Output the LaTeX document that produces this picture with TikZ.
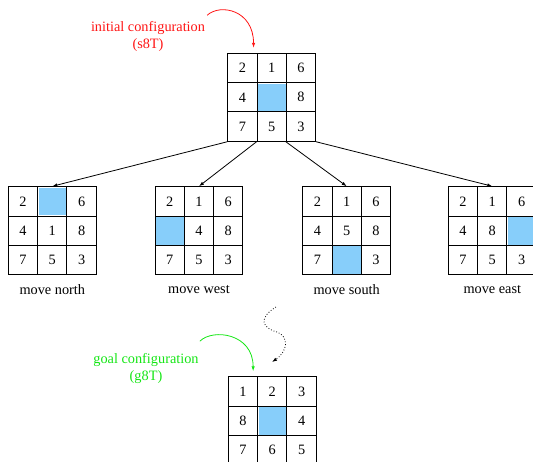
\documentclass[tikz,border=0pt]{standalone}
\usepackage{fontspec}
\setmainfont{Liberation Serif}
\usetikzlibrary{calc,arrows.meta}
\definecolor{tileblue}{RGB}{135,206,250}
\definecolor{cfgred}{RGB}{255,20,20}
\definecolor{cfggreen}{RGB}{20,230,20}
% one 3x3 board: name, top left cell centre, blank cell, tiles row by row
\def\board(#1)(#2,#3)[#4]#5{%
	\foreach \v [count=\k from 0] in {#5} {
		\pgfmathtruncatemacro\r{div(\k,3)}
		\pgfmathtruncatemacro\c{mod(\k,3)}
		\node[cell] (#1-\k) at ({#2+\c*29.3},{#3+\r*29.3}) {\v};
	}
	\node[blank] at (#1-#4) {};
}

\begin{document}
\begin{tikzpicture}[x=1pt,y=-1pt,
	every node/.style={font=\fontsize{14.3}{17}\selectfont},
	cell/.style={draw, line width=1pt, minimum size=29.3pt, inner sep=0pt},
	blank/.style={fill=tileblue, minimum size=27.6pt, inner sep=0pt},
	move/.style={line width=0.8pt, -{Latex[length=5pt,width=3.5pt]}}]
	%%%%% START %%%%%
	\useasboundingbox (0,0) rectangle (533,461);
	
	\board(top)(242.4,68)[4]{2,1,6,4,,8,7,5,3}
	
	\board(n)(23,201.4)[1]{2,,6,4,1,8,7,5,3}
	\board(w)(169.7,201.4)[3]{2,1,6,,4,8,7,5,3}
	\board(s)(317.4,201.4)[7]{2,1,6,4,5,8,7,,3}
	\board(e)(463,201.4)[5]{2,1,6,4,8,,7,5,3}
	
	\board(goal)(243,391.4)[4]{1,2,3,8,,4,7,6,5}
	
	\draw[move] (top-6.south west) -- (n-1.north);
	\draw[move] (top-7.south west) -- (w-1.north);
	\draw[move] (top-8.south west) -- (s-1.north);
	\draw[move] (top-8.south east) -- (e-1.north);
	
	\node (nlbl) at ([yshift=-14.5]n-7.south) {move north};
	\node (wlbl) at ([yshift=-14.5]w-7.south) {move west};
	\node (slbl) at ([yshift=-14.5]s-7.south) {move south};
	\node (elbl) at ([yshift=-14.5]e-7.south) {move east};
	
	\node[cfgred, align=center, inner sep=1pt] (initlbl) at (148,36.5) {initial configuration\\(s8T)};
	\draw[cfgred, move] ([shift={(1,-5)}]initlbl.north east) .. controls +(13,-12) and +(0,-38) .. ([shift={(-4,-5)}]top-0.north east);
	
	\node[cfggreen, align=center, inner sep=1pt] (goallbl) at (146,368.5) {goal configuration\\(g8T)};
	\draw[cfggreen, move] ([shift={(0,-11)}]goallbl.north east) .. controls +(13,-13) and +(0,-38) .. ([shift={(-5,-5)}]goal-0.north east);
	
	\coordinate (dstart) at (276,307);
	\coordinate (dend) at (272,362);
	\draw[move, dotted] (dstart) .. controls (258,318) and (262,328) .. (277,332) .. controls (290,337) and (287,352) .. (dend);
	%%%%% END %%%%%
\end{tikzpicture}
\end{document}
